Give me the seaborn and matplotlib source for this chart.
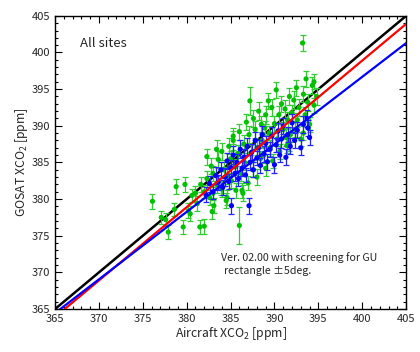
import matplotlib
matplotlib.use("Agg")
import matplotlib.pyplot as plt
import seaborn as sns
import pandas as pd
import numpy as np
from matplotlib.ticker import MultipleLocator

sns.set_theme(style="ticks")
plt.rcParams["font.family"] = ["Noto Sans CJK JP", "DejaVu Sans"]
plt.rcParams["mathtext.fontset"] = "custom"
plt.rcParams["mathtext.rm"] = "Noto Sans CJK JP"

# ----------------------------
# data
# ----------------------------
green_x = [376.1, 377.1, 377.6, 377.9, 378.6, 378.8, 379.6, 379.8, 380.2, 380.4,
           380.6, 381.0, 381.2, 381.5, 382.0, 381.6, 382.3, 382.0, 382.6, 383.0,
           382.8, 382.9, 383.1, 383.0, 383.4, 383.6, 383.9, 384.0, 384.2, 384.5,
           384.0, 384.6, 384.6, 384.8, 385.0, 385.1, 385.3, 385.5, 385.6, 385.8,
           386.0, 386.0, 386.2, 386.3, 386.4, 386.5, 386.6, 386.8, 387.0, 387.1,
           387.2, 387.3, 387.5, 387.6, 387.8, 388.0, 388.0, 388.2, 388.4, 388.5,
           388.6, 388.8, 389.0, 389.0, 389.3, 389.4, 389.5, 389.7, 389.8, 390.0,
           390.2, 390.3, 390.5, 390.6, 390.8, 391.0, 391.2, 391.4, 391.5, 391.7,
           391.8, 392.0, 392.2, 392.3, 392.5, 392.6, 392.8, 393.0, 393.2, 393.3,
           393.5, 393.6, 393.8, 394.0, 394.3, 394.5, 394.8, 393.3, 391.7, 388.9,
           391.3, 394.5, 382.3, 383.4, 385.3]
green_y = [379.7, 377.5, 377.2, 375.5, 378.6, 381.7, 376.2, 382.0, 378.4, 378.0,
           380.5, 380.8, 379.4, 376.2, 376.3, 382.0, 382.8, 381.0, 380.2, 383.5,
           384.5, 378.3, 379.1, 380.8, 382.0, 385.4, 381.5, 386.5, 384.0, 379.8,
           381.4, 380.2, 383.2, 387.2, 385.5, 382.5, 388.0, 384.4, 381.2, 386.2,
           376.4, 389.2, 383.5, 381.2, 380.8, 387.5, 385.0, 390.5, 382.2, 388.8,
           393.4, 386.3, 384.0, 391.0, 389.5, 387.0, 383.0, 392.0, 385.5, 390.2,
           388.0, 386.0, 391.5, 384.2, 393.4, 389.0, 387.0, 392.5, 385.2, 390.3,
           394.9, 388.2, 391.5, 386.5, 393.0, 389.5, 392.3, 387.3, 390.8, 394.0,
           388.8, 391.8, 393.5, 389.5, 395.2, 390.8, 392.5, 388.2, 401.3, 394.3,
           391.5, 396.4, 393.2, 390.2, 395.5, 392.8, 394.0, 389.0, 387.6, 389.7,
           388.4, 396.0, 385.8, 386.8, 388.6]
green_err = [1.0, 0.9, 0.9, 0.9, 0.9, 1.0, 0.9, 1.0, 1.0, 1.0,
             0.9, 1.0, 1.0, 1.0, 1.0, 1.0, 1.1, 0.9, 1.0, 1.0,
             1.1, 1.0, 1.0, 0.9, 1.1, 1.2, 1.0, 1.1, 1.0, 1.0,
             1.1, 1.0, 1.2, 1.1, 1.0, 1.0, 1.3, 1.1, 1.0, 1.2,
             2.5, 1.1, 1.0, 1.0, 1.1, 1.2, 1.0, 1.1, 1.0, 1.2,
             1.9, 1.1, 1.0, 1.2, 1.1, 1.0, 1.1, 1.2, 1.0, 1.1,
             1.0, 1.1, 1.2, 1.0, 1.1, 1.0, 1.1, 1.2, 1.0, 1.1,
             1.1, 1.0, 1.2, 1.0, 1.1, 1.0, 1.2, 1.0, 1.1, 1.2,
             1.0, 1.1, 1.2, 1.0, 1.1, 1.0, 1.2, 1.0, 1.1, 1.1,
             1.0, 1.1, 1.2, 1.0, 1.1, 1.0, 1.1, 1.0, 1.1, 1.0,
             1.1, 1.0, 1.1, 1.2, 1.1]

blue_x = [382.2, 382.6, 383.0, 383.3, 383.6, 383.9, 384.1, 384.4, 384.6, 384.8,
          385.0, 385.1, 385.3, 385.5, 385.7, 385.9, 386.1, 386.3, 386.5, 386.7,
          386.9, 387.1, 387.2, 387.4, 387.6, 387.8, 388.0, 388.2, 388.4, 388.6,
          388.8, 389.0, 389.2, 389.5, 389.7, 390.0, 390.2, 390.4, 390.6, 390.8,
          391.0, 391.3, 391.5, 391.8, 392.0, 392.3, 392.6, 393.0, 393.3, 393.7,
          393.8, 394.0]
blue_y = [380.6, 382.1, 381.0, 383.2, 382.3, 384.0, 381.6, 383.0, 385.2, 382.4,
          384.3, 379.1, 386.0, 383.5, 385.0, 382.8, 386.8, 384.2, 385.7, 383.3,
          387.2, 379.1, 385.0, 386.4, 384.0, 388.0, 385.6, 387.0, 384.6, 388.8,
          386.2, 387.6, 385.1, 386.8, 388.6, 384.7, 387.4, 389.3, 386.0, 388.2,
          390.0, 385.7, 388.8, 387.2, 390.4, 388.0, 389.4, 387.0, 390.2, 391.0,
          389.7, 388.4]
blue_err = [1.0, 1.1, 1.0, 1.2, 1.0, 1.1, 1.0, 1.2, 1.1, 1.0,
            1.1, 1.1, 1.2, 1.0, 1.1, 1.0, 1.2, 1.0, 1.1, 1.0,
            1.2, 1.1, 1.0, 1.1, 1.0, 1.2, 1.0, 1.1, 1.0, 1.2,
            1.1, 1.0, 1.1, 1.0, 1.2, 1.1, 1.0, 1.1, 1.0, 1.2,
            1.1, 1.1, 1.0, 1.1, 1.2, 1.0, 1.1, 1.0, 1.2, 1.1,
            1.1, 1.0]

# fitted lines (slope, intercept)
one_to_one = (1.0, 0.0)
red_fit = (1.0, -1.1)
blue_fit = (0.921, 28.28)

green = pd.DataFrame({"x": green_x, "y": green_y, "err": green_err})
blue = pd.DataFrame({"x": blue_x, "y": blue_y, "err": blue_err})

GREEN = "#00c000"
BLUE = "#0000ff"

fig = plt.figure(figsize=(4.2, 3.52), dpi=100)
ax = fig.add_axes([0.131, 0.122, 0.836, 0.833])

xs = np.array([365, 405])
ax.plot(xs, one_to_one[0] * xs + one_to_one[1], color="black", lw=1.8, zorder=1)

ax.errorbar(green["x"], green["y"], yerr=green["err"], fmt="none",
            ecolor="#33cc33", elinewidth=0.9, capsize=2.5, capthick=0.9, zorder=2)
sns.scatterplot(data=green, x="x", y="y", color=GREEN, s=14, edgecolor="none",
                ax=ax, zorder=3)

ax.errorbar(blue["x"], blue["y"], yerr=blue["err"], fmt="none",
            ecolor="#2222ff", elinewidth=0.9, capsize=2.5, capthick=0.9, zorder=4)
sns.scatterplot(data=blue, x="x", y="y", color=BLUE, s=14, edgecolor="none",
                ax=ax, zorder=5)

ax.plot(xs, red_fit[0] * xs + red_fit[1], color="#ff0000", lw=1.6, zorder=6)
ax.plot(xs, blue_fit[0] * xs + blue_fit[1], color=BLUE, lw=1.6, zorder=6)

ax.set_xlim(365, 405)
ax.set_ylim(365, 405)
ax.xaxis.set_major_locator(MultipleLocator(5))
ax.yaxis.set_major_locator(MultipleLocator(5))
ax.xaxis.set_minor_locator(MultipleLocator(1))
ax.yaxis.set_minor_locator(MultipleLocator(1))
ax.tick_params(which="both", direction="in", top=True, right=True,
               labelsize=8, color="black", width=0.8)
ax.tick_params(which="major", length=5)
ax.tick_params(which="minor", length=2.5)
for s in ax.spines.values():
    s.set_color("black")
    s.set_linewidth(1.0)

ax.set_xlabel("Aircraft XCO$_2$ [ppm]", fontsize=8.8, labelpad=1)
ax.set_ylabel("GOSAT XCO$_2$ [ppm]", fontsize=8.8, labelpad=1)

ax.text(367.9, 401.2, "All sites", fontsize=9.5, va="center", ha="left")
ax.text(383.9, 372.0, "Ver. 02.00 with screening for GU", fontsize=7.7,
        va="center", ha="left")
ax.text(384.3, 370.2, "rectangle \u00b15deg.", fontsize=7.7, va="center", ha="left")

fig.savefig("out.png", dpi=100)
